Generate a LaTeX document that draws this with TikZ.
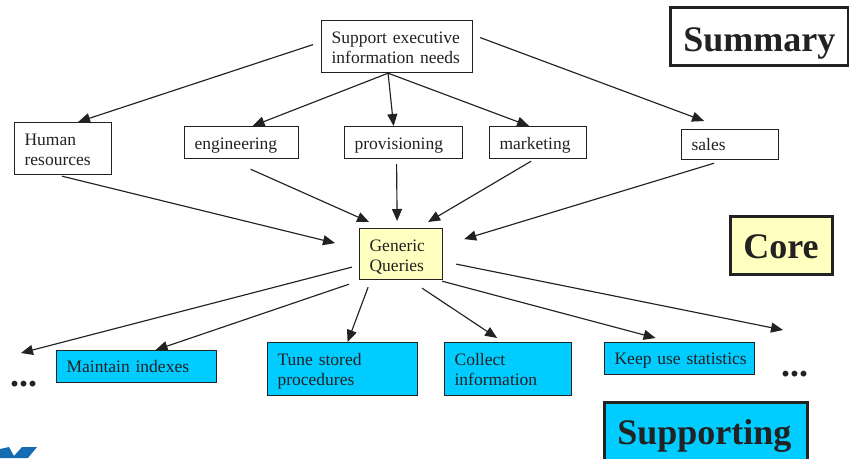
\documentclass[tikz,border=0pt]{standalone}
\usepackage{fontspec}
\setmainfont{Liberation Serif}
\usetikzlibrary{arrows.meta,calc}
\definecolor{ink}{RGB}{34,34,34}
\definecolor{paleyellow}{RGB}{255,255,192}
\definecolor{skycyan}{RGB}{0,204,255}
\definecolor{logoblue}{RGB}{22,108,178}

\begin{document}
\begin{tikzpicture}[x=1pt,y=-1pt,
  box/.style={draw=ink, line width=1.2pt, anchor=north west, inner xsep=10pt,
    inner ysep=0pt, text height=23pt, align=left, text=ink,
    font=\fontsize{17.5}{20}\selectfont},
  tag/.style={draw=ink, line width=2.6pt, anchor=north west, inner xsep=13pt,
    inner ysep=0pt, align=left, text=ink,
    font=\fontsize{36}{40}\selectfont\bfseries},
  arr/.style={draw=ink, line width=1.15pt, -{Triangle[length=12pt,width=10pt]}},
  dots/.style={font=\fontsize{36}{40}\selectfont\bfseries, text=ink,
    inner sep=0pt, anchor=base west}
]
\useasboundingbox (0,0) rectangle (849,458);
\clip (0,0) rectangle (849,458);
\fill[white] (0,0) rectangle (849,458);

% summary level
\node[box, text width=131pt, text depth=29pt] (sup) at (321,20) {\mbox{Support executive}\\\mbox{information needs}};
\node[box, text width=77pt, text depth=29pt] (hr) at (14,122) {Human\\resources};
\node[box, text width=94pt, text depth=9pt] (eng) at (184,126) {\mbox{engineering}};
\node[box, text width=98pt, text depth=9pt] (prov) at (344,126) {\mbox{provisioning}};
\node[box, text width=77pt, text depth=9pt] (mkt) at (489,126) {\mbox{marketing}};
\node[box, text width=77pt, text height=21pt, text depth=9pt] (sales) at (681,129) {sales};

% core level
\node[box, fill=paleyellow, text width=63pt, text depth=28pt] (gq) at (359,228) {\mbox{Generic}\\\mbox{Queries}};

% supporting level
\node[box, fill=skycyan, text width=140pt, text height=22pt, text depth=10pt] (mi) at (56,350) {\mbox{Maintain indexes}};
\node[box, fill=skycyan, text width=130pt, text depth=30pt] (tune) at (267,342) {\mbox{Tune stored}\\\mbox{procedures}};
\node[box, fill=skycyan, text width=107pt, text depth=30pt] (coll) at (444,342) {\mbox{Collect}\\\mbox{information}};
\node[box, fill=skycyan, text width=130pt, text height=22pt, text depth=10pt] (keep) at (604,342) {\mbox{Keep use statistics}};
\node[dots] (ld) at (10,386) {...};
\node[dots] (rd) at (781,376) {...};

% level tags
\node[tag, text width=152pt, text height=44pt, text depth=14pt] (sumtag) at (669,6) {\mbox{Summary}};
\node[tag, fill=paleyellow, text width=76pt, text height=42pt, text depth=16pt] (coretag) at (729,215) {\mbox{Core}};
\node[tag, fill=skycyan, text width=177pt, text height=42pt, text depth=26pt] (suptag) at (603,401) {\mbox{Supporting}};

% logo corner
\fill[logoblue] (0,449) -- (9,447) -- (14,456) -- (22,447) -- (37,447) -- (28,458) -- (0,458) -- cycle;

% summary -> functional areas
\draw[arr] ([xshift=-8pt,yshift=2pt]sup.west) -- ([xshift=15pt]hr.north);
\draw[arr] ([xshift=-9pt]sup.south) -- ([xshift=11pt]eng.north);
\draw[arr] ([xshift=-9pt]sup.south) -- ([xshift=-10pt]prov.north);
\draw[arr] ([xshift=-9pt]sup.south) -- ([xshift=-9pt]mkt.north);
\draw[arr] ([xshift=7pt,yshift=9pt]sup.east) -- ([xshift=-26pt,yshift=8pt]sales.north);

% functional areas -> generic queries
\draw[arr] ([xshift=-1pt,yshift=-1pt]hr.south) -- ([xshift=-24pt,yshift=11pt]gq.west);
\draw[arr] ([xshift=9pt,yshift=-10pt]eng.south) -- ([xshift=-32pt,yshift=6pt]gq.north);
\draw[arr] ([xshift=-7pt,yshift=-5pt]prov.south) -- ([xshift=-4pt,yshift=7pt]gq.north);
\draw[arr] ([xshift=-7pt,yshift=-2pt]mkt.south) -- ([xshift=27pt,yshift=6pt]gq.north);
\draw[arr] ([xshift=-16pt,yshift=-3pt]sales.south) -- ([xshift=21pt,yshift=15pt]gq.east);

% generic queries -> supporting tasks
\draw[arr] ([xshift=-7pt,yshift=-13pt]gq.west) -- ([xshift=11pt,yshift=33pt]ld.base west);
\draw[arr] ([xshift=-10pt,yshift=-4pt]gq.south west) -- ([xshift=19pt]mi.north);
\draw[arr] ([xshift=-33pt,yshift=-7pt]gq.south) -- ([xshift=5pt]tune.north);
\draw[arr] ([xshift=21pt,yshift=-8pt]gq.south) -- ([xshift=-11pt,yshift=4pt]coll.north);
\draw[arr] ([xshift=-1pt,yshift=-1pt]gq.south east) -- ([xshift=-24pt,yshift=4pt]keep.north);
\draw[arr] ([xshift=13pt,yshift=-10pt]gq.east) -- ([xshift=2pt,yshift=46pt]rd.base west);
\end{tikzpicture}
\end{document}
